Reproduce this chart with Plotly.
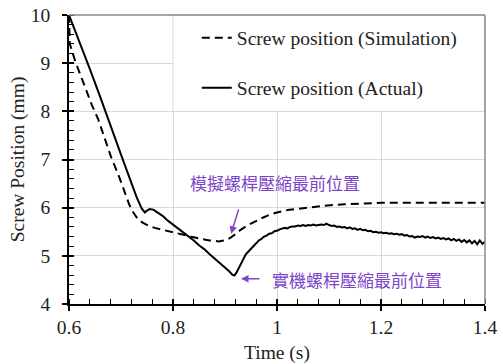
import plotly.graph_objects as go

# Screw position over time: simulation vs. measured on the machine
t_sim = [0.600, 0.6015, 0.612, 0.622, 0.632, 0.644, 0.656, 0.669, 0.681, 0.695,
         0.707, 0.716, 0.722, 0.730, 0.740, 0.752, 0.765, 0.780, 0.795, 0.810,
         0.830, 0.850, 0.870, 0.888, 0.900, 0.910, 0.920, 0.930, 0.943, 0.958,
         0.970, 0.985, 1.000, 1.020, 1.050, 1.090, 1.130, 1.170, 1.200, 1.300, 1.400]
pos_sim = [10.00, 9.40, 9.04, 8.76, 8.49, 8.13, 7.84, 7.45, 7.05, 6.68,
           6.32, 6.06, 5.93, 5.80, 5.70, 5.63, 5.58, 5.54, 5.51, 5.47,
           5.41, 5.36, 5.32, 5.30, 5.32, 5.37, 5.45, 5.54, 5.63, 5.72,
           5.78, 5.85, 5.90, 5.95, 5.99, 6.04, 6.07, 6.09, 6.10, 6.10, 6.10]

t_act = [0.600, 0.620, 0.640, 0.660, 0.680, 0.700, 0.715, 0.730, 0.740, 0.746,
         0.750, 0.755, 0.762, 0.770, 0.780, 0.790, 0.800, 0.810, 0.820, 0.830,
         0.840, 0.850, 0.860, 0.870, 0.880, 0.890, 0.900, 0.908, 0.914, 0.918,
         0.922, 0.928, 0.934, 0.940, 0.946, 0.950, 0.955, 0.960, 0.965, 0.970,
         0.975, 0.980, 0.985, 0.990, 0.995, 1.000, 1.005, 1.010, 1.015, 1.020,
         1.025, 1.030, 1.035, 1.040, 1.045, 1.050, 1.055, 1.060, 1.065, 1.070,
         1.075, 1.080, 1.085, 1.090, 1.095, 1.100, 1.105, 1.110, 1.115, 1.120,
         1.125, 1.130, 1.135, 1.140, 1.145, 1.150, 1.155, 1.160, 1.165, 1.170,
         1.175, 1.180, 1.185, 1.190, 1.195, 1.200, 1.205, 1.210, 1.215, 1.220,
         1.225, 1.230, 1.235, 1.240, 1.245, 1.250, 1.255, 1.260, 1.265, 1.270,
         1.275, 1.280, 1.285, 1.290, 1.295, 1.300, 1.305, 1.310, 1.315, 1.320,
         1.325, 1.330, 1.335, 1.340, 1.345, 1.350, 1.355, 1.360, 1.365, 1.370,
         1.375, 1.380, 1.385, 1.390, 1.395, 1.400]
pos_act = [10.00, 9.45, 8.88, 8.30, 7.72, 7.10, 6.66, 6.22, 5.98, 5.90,
           5.94, 5.97, 5.96, 5.91, 5.83, 5.73, 5.65, 5.57, 5.48, 5.40,
           5.32, 5.22, 5.14, 5.04, 4.95, 4.86, 4.77, 4.68, 4.61, 4.59,
           4.65, 4.78, 4.92, 5.03, 5.10, 5.15, 5.22, 5.26, 5.32, 5.35,
           5.40, 5.42, 5.46, 5.47, 5.51, 5.52, 5.55, 5.56, 5.58, 5.57,
           5.60, 5.61, 5.61, 5.63, 5.62, 5.64, 5.62, 5.64, 5.63, 5.65,
           5.63, 5.64, 5.65, 5.64, 5.67, 5.64, 5.62, 5.63, 5.60, 5.61,
           5.59, 5.60, 5.57, 5.59, 5.56, 5.57, 5.54, 5.56, 5.53, 5.54,
           5.51, 5.52, 5.49, 5.50, 5.48, 5.49, 5.47, 5.48, 5.46, 5.47,
           5.45, 5.46, 5.44, 5.45, 5.42, 5.43, 5.40, 5.41, 5.38, 5.40,
           5.39, 5.41, 5.38, 5.40, 5.37, 5.39, 5.36, 5.38, 5.35, 5.37,
           5.34, 5.36, 5.32, 5.35, 5.31, 5.34, 5.29, 5.33, 5.28, 5.32,
           5.26, 5.31, 5.24, 5.32, 5.25, 5.29]

label_sim = "模擬螺桿壓縮最前位置"
label_act = "實機螺桿壓縮最前位置"

x_ticks = [0.6, 0.8, 1.0, 1.2, 1.4]
x_tick_text = ["0.6", "0.8", "1", "1.2", "1.4"]
y_ticks = [4, 5, 6, 7, 8, 9, 10]

SERIF = "Liberation Serif"
PURPLE = "#7d45c8"
GRID = "#d9d9d9"
FS = 19.5

fig = go.Figure()
fig.add_trace(go.Scatter(
    x=t_sim, y=pos_sim, mode="lines", name="Screw position (Simulation)",
    line=dict(color="black", width=2, dash="8px,5px"), legend="legend"))
fig.add_trace(go.Scatter(
    x=t_act, y=pos_act, mode="lines", name="Screw position (Actual)",
    line=dict(color="black", width=2), legend="legend2"))
# empty trace so the overlay axes (inner half of major ticks) get drawn
fig.add_trace(go.Scatter(x=[], y=[], xaxis="x2", yaxis="y2", showlegend=False))

axis_font = dict(family=SERIF, size=FS, color="#222")
fig.update_layout(
    width=503, height=364,
    margin=dict(l=69, r=18, t=15, b=60, autoexpand=False),
    paper_bgcolor="white", plot_bgcolor="white",
    font=dict(family=SERIF, size=FS, color="#222"),
    xaxis=dict(range=[0.6, 1.4], tickvals=x_ticks, ticktext=x_tick_text,
               ticks="outside", ticklen=5, tickwidth=1.5, tickcolor="black",
               showline=True, linecolor="black", linewidth=1.5,
               showgrid=True, gridcolor=GRID, gridwidth=1, zeroline=False,
               minor=dict(dtick=0.04, tick0=0.6, ticks="inside", ticklen=5,
                          tickwidth=1.2, tickcolor="black", showgrid=False),
               tickfont=axis_font, ticklabelstandoff=0, automargin=False,
               title=dict(text="Time (s)", font=axis_font, standoff=9)),
    yaxis=dict(range=[4, 10], tickvals=y_ticks,
               ticks="outside", ticklen=5, tickwidth=1.5, tickcolor="black",
               showline=True, linecolor="black", linewidth=1.5,
               showgrid=True, gridcolor=GRID, gridwidth=1, zeroline=False,
               minor=dict(dtick=0.2, tick0=4, ticks="inside", ticklen=5,
                          tickwidth=1.2, tickcolor="black", showgrid=False),
               tickfont=axis_font, ticklabelstandoff=8, automargin=False,
               title=dict(text="Screw Position (mm)", font=axis_font, standoff=1)),
    xaxis2=dict(range=[0.6, 1.4], overlaying="x", anchor="y", tickvals=x_ticks,
                ticks="inside", ticklen=5, tickwidth=1.5, tickcolor="black",
                showticklabels=False, showgrid=False, showline=False, zeroline=False),
    yaxis2=dict(range=[4, 10], overlaying="y", anchor="x", tickvals=y_ticks,
                ticks="inside", ticklen=5, tickwidth=1.5, tickcolor="black",
                showticklabels=False, showgrid=False, showline=False, zeroline=False),
    legend=dict(x=0.3072, y=0.9205, xanchor="left", yanchor="middle",
                bgcolor="rgba(0,0,0,0)", font=dict(family=SERIF, size=FS, color="#222")),
    legend2=dict(x=0.3072, y=0.747, xanchor="left", yanchor="middle",
                 bgcolor="rgba(0,0,0,0)", font=dict(family=SERIF, size=FS, color="#222")),
    showlegend=True,
)

# legend panel, top and right frame
fig.add_shape(type="rect", xref="x", yref="y", x0=0.8, x1=1.4, y0=8, y1=10,
              fillcolor="white", line=dict(color=GRID, width=1), layer="between")
fig.add_shape(type="line", xref="paper", yref="paper", x0=0, x1=1, y0=1, y1=1,
              line=dict(color="#888", width=1.5))
fig.add_shape(type="line", xref="paper", yref="paper", x0=1, x1=1, y0=0, y1=1,
              line=dict(color="#888", width=1.5))

# labels of the two compression end points
cjk = dict(family="Noto Sans CJK TC", size=17, color=PURPLE)
fig.add_annotation(x=0.996, y=6.515, text=label_sim, showarrow=False, font=cjk)
fig.add_annotation(x=1.1545, y=4.50, text=label_act, showarrow=False, font=cjk)
fig.add_annotation(x=0.9117, y=5.456, ax=8, ay=-26, text="", showarrow=True,
                   arrowhead=2, arrowsize=1, arrowwidth=1.5, arrowcolor=PURPLE)
fig.add_annotation(x=0.9308, y=4.523, ax=20, ay=0, text="", showarrow=True,
                   arrowhead=2, arrowsize=1, arrowwidth=1.5, arrowcolor=PURPLE)

fig.write_html("out.html")
